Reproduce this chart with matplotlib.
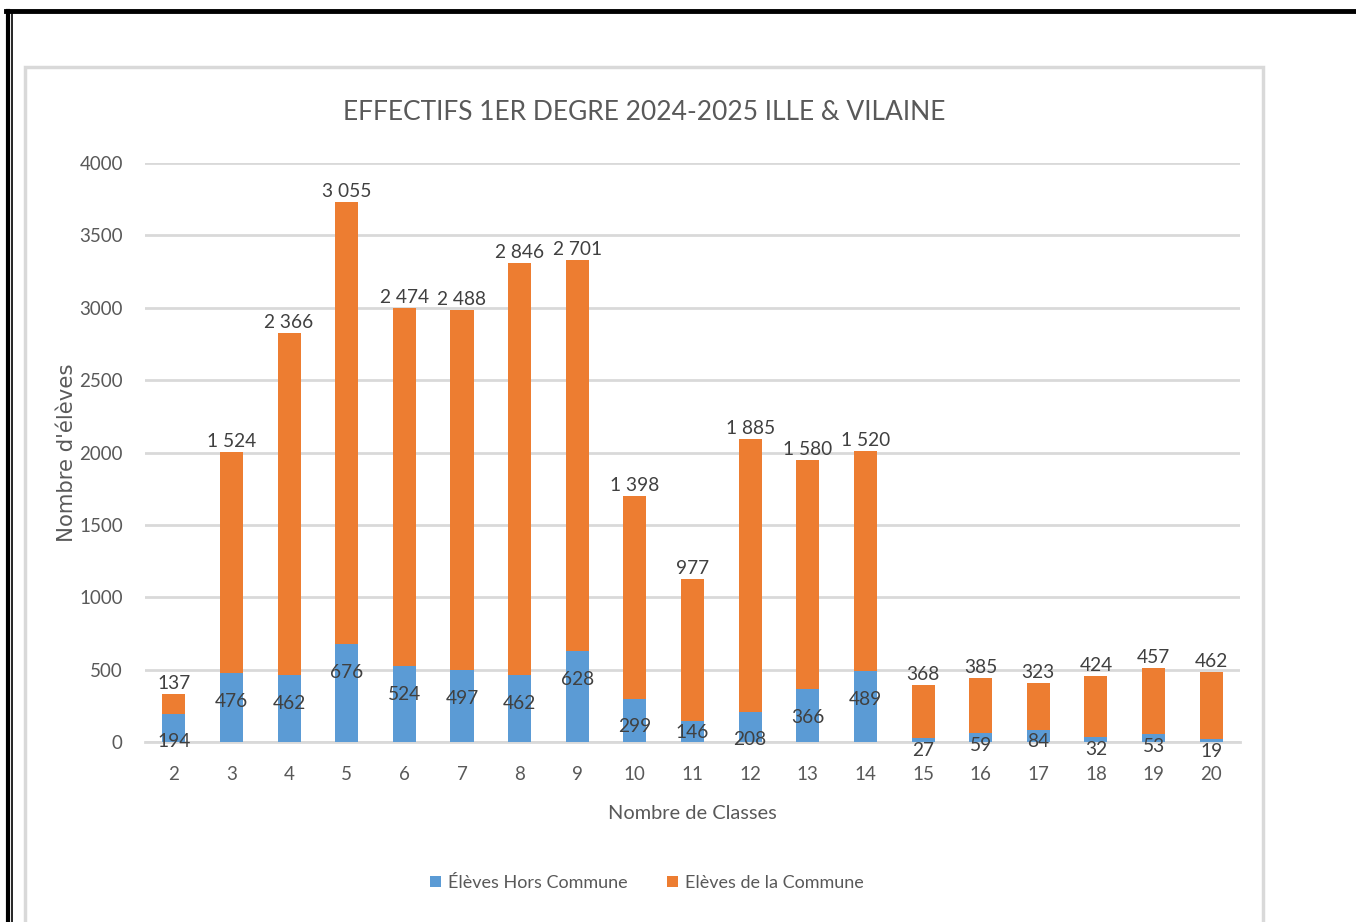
import matplotlib
matplotlib.use('Agg')
import matplotlib.pyplot as plt
from matplotlib.lines import Line2D
from matplotlib.patches import Rectangle

classes = ['2', '3', '4', '5', '6', '7', '8', '9', '10', '11', '12', '13', '14', '15', '16', '17', '18', '19', '20']
hors_commune = [194, 476, 462, 676, 524, 497, 462, 628, 299, 146, 208, 366, 489, 27, 59, 84, 32, 53, 19]
de_la_commune = [137, 1524, 2366, 3055, 2474, 2488, 2846, 2701, 1398, 977, 1885, 1580, 1520, 368, 385, 323, 424, 457, 462]

blue = '#5B9BD5'
orange = '#ED7D31'
grey_txt = '#595959'

plt.rcParams['font.family'] = ['Lato', 'DejaVu Sans']

fig = plt.figure(figsize=(13.56, 9.22), dpi=100)
ax = fig.add_axes([145 / 1356, 1 - 742 / 922, 1095 / 1356, 579 / 922])

x = list(range(len(classes)))
ax.bar(x, hors_commune, width=0.4, color=blue, label='Élèves Hors Commune', zorder=3)
ax.bar(x, de_la_commune, width=0.4, bottom=hors_commune, color=orange, label='Elèves de la Commune', zorder=3)

def fmt(v):
    return '{:,}'.format(v).replace(',', ' ')

for i in x:
    h = hors_commune[i]
    c = de_la_commune[i]
    # labels of the small blue segments sit just under the bar top
    off = -28 if h >= 190 else -12
    ax.annotate(fmt(h), (i, h), xytext=(0, off * 0.72), textcoords='offset points',
                ha='center', va='center', fontsize=13.8, color='#404040', zorder=4)
    ax.annotate(fmt(c), (i, h + c), xytext=(0, 1.5), textcoords='offset points',
                ha='center', va='bottom', fontsize=13.8, color='#404040', zorder=4)

ax.set_xlim(-0.5, len(classes) - 0.5)
ax.set_ylim(0, 4000)
ax.set_yticks(range(0, 4001, 500))
ax.set_xticks(x)
ax.set_xticklabels(classes)
ax.tick_params(axis='both', length=0, labelsize=13.5, colors=grey_txt)
ax.tick_params(axis='x', pad=17)
ax.tick_params(axis='y', pad=16)
ax.grid(axis='y', color='#D9D9D9', linewidth=2, zorder=0)
for s in ['top', 'right', 'left']:
    ax.spines[s].set_visible(False)
ax.spines['bottom'].set_color('#D9D9D9')
ax.spines['bottom'].set_linewidth(2)

ax.set_xlabel('Nombre de Classes', fontsize=14.4, color=grey_txt, labelpad=16)
fig.text(67 / 1356, 1 - 453 / 922, "Nombre d'élèves", rotation=90, ha='center', va='center',
         fontsize=15.3, color=grey_txt, family='DejaVu Sans')
fig.text(644 / 1356, 1 - 112 / 922, 'EFFECTIFS 1ER DEGRE 2024-2025 ILLE & VILAINE',
         ha='center', va='center', fontsize=19, color=grey_txt)

fig.legend(loc='center', bbox_to_anchor=(647 / 1356, 1 - 883 / 922), ncol=2, frameon=False,
           fontsize=13, handlelength=0.6, handleheight=0.6, handletextpad=0.4, columnspacing=2.2,
           labelcolor=grey_txt)

# chart area border and page frame
fig.add_artist(Rectangle((25 / 1356, -0.01), (1263 - 25) / 1356, (922 - 65) / 922 + 0.01 - 2 / 922,
                         transform=fig.transFigure, fill=False, edgecolor='#D9D9D9', linewidth=2.5))
fig.add_artist(Line2D([6 / 1356, 1.0], [1 - 11 / 922] * 2, transform=fig.transFigure, color='black', linewidth=3.5))
fig.add_artist(Line2D([8 / 1356] * 2, [0, 1 - 11 / 922], transform=fig.transFigure, color='black', linewidth=3))
fig.add_artist(Line2D([11.5 / 1356] * 2, [0, 1 - 13 / 922], transform=fig.transFigure, color='black', linewidth=1.2))

fig.savefig('out.png', dpi=100)
